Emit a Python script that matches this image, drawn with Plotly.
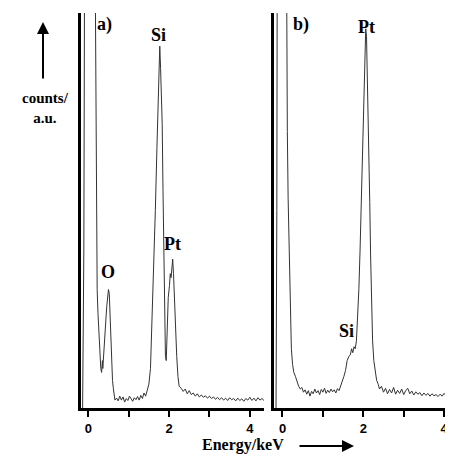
import plotly.graph_objects as go

# Panel a) spectrum (energy in keV, counts normalised)
energy_a = [-0.14, -0.11, -0.08, 0.00, 0.10, 0.16, 0.18, 0.20, 0.22, 0.24, 0.26, 0.28, 0.30, 0.31, 0.33,
            0.35, 0.36, 0.38, 0.40, 0.42, 0.44, 0.46, 0.48, 0.50, 0.52, 0.54, 0.56, 0.58, 0.60, 0.62,
            0.64, 0.66, 0.70, 0.74, 0.78, 0.82, 0.86, 0.90, 0.94, 0.98, 1.02, 1.06, 1.10, 1.14, 1.18,
            1.22, 1.26, 1.30, 1.34, 1.38, 1.42, 1.46, 1.50, 1.54, 1.58, 1.62, 1.66, 1.70, 1.74, 1.77,
            1.79, 1.81, 1.83, 1.85, 1.87, 1.89, 1.91, 1.93, 1.95, 1.98, 2.01, 2.03, 2.05, 2.07, 2.09,
            2.11, 2.13, 2.16, 2.19, 2.22, 2.25, 2.30, 2.35, 2.40, 2.45, 2.50, 2.55, 2.60, 2.65, 2.70,
            2.75, 2.80, 2.85, 2.90, 2.95, 3.00, 3.05, 3.10, 3.15, 3.20, 3.25, 3.30, 3.35, 3.40, 3.45,
            3.50, 3.55, 3.60, 3.65, 3.70, 3.75, 3.80, 3.85, 3.90, 3.95, 4.00, 4.05, 4.10, 4.15, 4.20,
            4.25, 4.30, 4.35]
counts_a = [0.00, 0.40, 1.60, 3.00, 2.20, 1.30, 0.95, 0.55, 0.30, 0.24, 0.20, 0.15, 0.13, 0.10, 0.09,
            0.12, 0.10, 0.14, 0.17, 0.20, 0.23, 0.26, 0.28, 0.30, 0.29, 0.24, 0.16, 0.10, 0.07, 0.05,
            0.03, 0.020, 0.025, 0.018, 0.030, 0.020, 0.028, 0.015, 0.024, 0.019, 0.030, 0.022, 0.017, 0.026, 0.021,
            0.029, 0.020, 0.032, 0.024, 0.038, 0.030, 0.045, 0.06, 0.10, 0.22, 0.38, 0.50, 0.66, 0.80, 0.916,
            0.86, 0.80, 0.72, 0.55, 0.40, 0.25, 0.13, 0.12, 0.18, 0.28, 0.31, 0.34, 0.33, 0.37, 0.377,
            0.34, 0.28, 0.20, 0.13, 0.08, 0.055, 0.050, 0.042, 0.048, 0.036, 0.044, 0.034, 0.038, 0.030, 0.036,
            0.028, 0.033, 0.027, 0.031, 0.025, 0.030, 0.024, 0.028, 0.022, 0.027, 0.021, 0.026, 0.020, 0.025, 0.019,
            0.026, 0.021, 0.024, 0.018, 0.025, 0.019, 0.023, 0.017, 0.024, 0.020, 0.027, 0.019, 0.025, 0.018, 0.026,
            0.020, 0.024, 0.019]

# Panel b) spectrum
energy_b = [-0.16, -0.14, -0.12, 0.00, 0.08, 0.10, 0.12, 0.14, 0.17, 0.19, 0.22, 0.25, 0.28, 0.32, 0.36,
            0.40, 0.44, 0.48, 0.52, 0.56, 0.60, 0.64, 0.68, 0.72, 0.76, 0.80, 0.84, 0.88, 0.92, 0.96,
            1.00, 1.04, 1.08, 1.12, 1.16, 1.20, 1.24, 1.28, 1.32, 1.36, 1.40, 1.44, 1.48, 1.52, 1.56,
            1.60, 1.64, 1.68, 1.71, 1.74, 1.77, 1.80, 1.83, 1.86, 1.89, 1.92, 1.95, 1.98, 2.01, 2.04,
            2.06, 2.08, 2.10, 2.12, 2.14, 2.16, 2.18, 2.20, 2.23, 2.26, 2.30, 2.33, 2.37, 2.40, 2.45,
            2.50, 2.55, 2.60, 2.65, 2.70, 2.75, 2.80, 2.85, 2.90, 2.95, 3.00, 3.05, 3.10, 3.15, 3.20,
            3.25, 3.30, 3.35, 3.40, 3.45, 3.50, 3.55, 3.60, 3.65, 3.70, 3.75, 3.80, 3.85, 3.90, 3.95,
            4.00, 4.05, 4.10, 4.15, 4.20, 4.25]
counts_b = [0.00, 0.50, 1.80, 3.00, 1.60, 0.95, 0.70, 0.53, 0.35, 0.23, 0.15, 0.11, 0.09, 0.08, 0.065,
            0.055, 0.048, 0.052, 0.040, 0.046, 0.035, 0.044, 0.030, 0.042, 0.036, 0.048, 0.038, 0.044, 0.034, 0.047,
            0.040, 0.050, 0.037, 0.045, 0.039, 0.048, 0.041, 0.046, 0.038, 0.049, 0.044, 0.055, 0.065, 0.080, 0.095,
            0.12, 0.13, 0.135, 0.15, 0.14, 0.155, 0.15, 0.17, 0.22, 0.30, 0.40, 0.52, 0.66, 0.80, 0.90,
            0.96, 0.94, 0.85, 0.76, 0.64, 0.52, 0.39, 0.27, 0.17, 0.12, 0.09, 0.07, 0.06, 0.048, 0.055,
            0.040, 0.050, 0.036, 0.047, 0.038, 0.052, 0.035, 0.045, 0.037, 0.048, 0.034, 0.044, 0.050, 0.036, 0.043,
            0.033, 0.041, 0.035, 0.039, 0.031, 0.038, 0.032, 0.037, 0.030, 0.036, 0.031, 0.034, 0.029, 0.035, 0.030,
            0.037, 0.031, 0.035, 0.029, 0.034, 0.030]

tick_vals = [0, 1, 2, 3, 4]
tick_text = ["<b>0</b>", "", "<b>2</b>", "", "<b>4</b>"]

# peak labels: (text, energy, height)
labels_a = [("a)", 0.41, 0.97), ("Si", 1.73, 0.944), ("Pt", 2.08, 0.415), ("O", 0.49, 0.345)]
labels_b = [("b)", 0.46, 0.97), ("Pt", 2.08, 0.965), ("Si", 1.58, 0.195)]

# The page body has an 8 px margin, so the figure is drawn 8 px smaller
OFF = 8
W, H = 453 - OFF, 454 - OFF


def px(x):
    return (x - OFF) / W


def py(y):
    return (454 - y) / H


fig = go.Figure()
fig.add_trace(go.Scatter(x=energy_a, y=counts_a, mode="lines", line=dict(color="#333", width=1),
                         xaxis="x", yaxis="y", showlegend=False))
fig.add_trace(go.Scatter(x=energy_b, y=counts_b, mode="lines", line=dict(color="#333", width=1),
                         xaxis="x2", yaxis="y2", showlegend=False))

ydom = [py(408), py(13)]
xcommon = dict(tickmode="array", tickvals=tick_vals, ticktext=tick_text, ticks="outside", ticklen=6,
               tickwidth=2, tickcolor="black", showline=True, linewidth=3, linecolor="black",
               showgrid=False, zeroline=False,
               tickfont=dict(family="Liberation Sans", size=13, color="black"))
ycommon = dict(range=[0, 1], showline=True, linewidth=3, linecolor="black", showgrid=False,
               zeroline=False, showticklabels=False, ticks="")

fig.update_layout(
    width=W, height=H, margin=dict(l=0, r=0, t=0, b=0),
    paper_bgcolor="white", plot_bgcolor="white",
    xaxis=dict(domain=[px(81), px(264)], range=[-0.18, 4.35], anchor="y", **xcommon),
    yaxis=dict(domain=ydom, anchor="x", **ycommon),
    xaxis2=dict(domain=[px(274), 1.0], range=[-0.21, 4.22], anchor="y2", **xcommon),
    yaxis2=dict(domain=ydom, anchor="x2", **ycommon),
)

lab_font = dict(family="Liberation Serif", size=18, color="black")
for t, xv, yv in labels_a:
    fig.add_annotation(x=xv, y=yv, xref="x", yref="y", text="<b>%s</b>" % t, showarrow=False,
                       font=lab_font, xanchor="center", yanchor="middle")
for t, xv, yv in labels_b:
    fig.add_annotation(x=xv, y=yv, xref="x2", yref="y2", text="<b>%s</b>" % t, showarrow=False,
                       font=lab_font, xanchor="center", yanchor="middle")

# axis captions
fig.add_annotation(x=px(45), y=py(108), xref="paper", yref="paper", xanchor="center", yanchor="middle",
                   text="<b>counts/<br>a.u.</b>", showarrow=False, align="center",
                   font=dict(family="Liberation Serif", size=15, color="black"))
fig.add_annotation(x=px(243), y=py(444.5), xref="paper", yref="paper", xanchor="center", yanchor="middle",
                   text="<b>Energy/keV</b>", showarrow=False,
                   font=dict(family="Liberation Serif", size=16, color="black"))
# arrows
fig.add_annotation(x=px(43), y=py(22), xref="paper", yref="paper", ax=0, ay=58,
                   text="", showarrow=True, arrowhead=2, arrowsize=1.2, arrowwidth=2, arrowcolor="black")
fig.add_annotation(x=px(354), y=py(446), xref="paper", yref="paper", ax=-56, ay=0,
                   text="", showarrow=True, arrowhead=2, arrowsize=1.2, arrowwidth=2, arrowcolor="black")

fig.write_html("out.html")
